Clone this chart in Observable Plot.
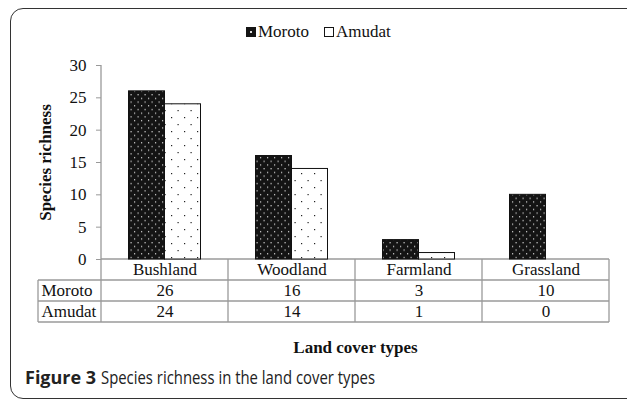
<!DOCTYPE html>
<html>
<head>
<meta charset="utf-8">
<script src="https://cdn.jsdelivr.net/npm/d3@7"></script>
<script src="https://cdn.jsdelivr.net/npm/@observablehq/plot@0.6"></script>
<style>
  html, body { margin: 0; padding: 0; background: #fff; }
  #root { position: relative; width: 627px; height: 402px; overflow: hidden; background: #fff; }
  #box { position: absolute; left: 10px; top: 8px; width: 650px; height: 391px; border: 1.5px solid #333; border-radius: 13px; box-sizing: border-box; }
  #legend { position: absolute; left: 246px; top: 22px; font-family: "Liberation Serif", serif; font-size: 17px; color: #111; display: flex; align-items: center; white-space: nowrap; }
  #legend .item { display: flex; align-items: center; margin-right: 15px; }
  #legend svg { margin-right: 2px; }
  #chart { position: absolute; left: 0; top: 45px; }
  #caption { position: absolute; left: 25px; top: 365px; font-family: "Open Sans", sans-serif; font-size: 17.5px; color: #222; white-space: nowrap; }
  #caption .b { font-weight: 700; font-size: 18px; display: inline-block; }
  #caption .r { display: inline-block; transform: scaleX(0.85); transform-origin: 0 0; margin-left: 5px; }
</style>
</head>
<body>
<div id="root">
  <div id="box"></div>
  <div id="legend"></div>
  <div id="chart"></div>
  <div id="caption"><span class="b">Figure 3</span><span class="r">Species richness in the land cover types</span></div>
</div>
<script>
// ---- data ----
const categories = ["Bushland", "Woodland", "Farmland", "Grassland"];
const seriesNames = ["Moroto", "Amudat"];
const moroto = [26, 16, 3, 10];
const amudat = [24, 14, 1, 0];
const yTicks = [0, 5, 10, 15, 20, 25, 30];
const yLabel = "Species richness";
const xLabel = "Land cover types";

// ---- layout ----
const W = 627, H = 315;
const mL = 101, mR = 18, mT = 20, mB = 101;
const bw = (W - mL - mR) / categories.length;
const barW = 36;
const rowH = 21;
const rowLabelX = 38;

const rows = categories.map((c, i) => ({cat: c, Moroto: moroto[i], Amudat: amudat[i]}));

const fillFor = {Moroto: "url(#pMoroto)", Amudat: "url(#pAmudat)"};

const plot = Plot.plot({
  width: W,
  height: H,
  marginLeft: mL,
  marginRight: mR,
  marginTop: mT,
  marginBottom: mB,
  style: {fontFamily: "Liberation Serif, serif", fontSize: "17px", color: "#111", background: "transparent", overflow: "visible"},
  x: {domain: categories, padding: 0, axis: null},
  y: {domain: [0, 30], axis: null},
  marks: [
    Plot.axisY({ticks: yTicks, tickSize: 5, tickPadding: 10, stroke: "#999", fill: "#111", fontSize: 17, label: null, tickFormat: d => d}),
    Plot.barY(rows, {x: "cat", y: "Moroto", fill: fillFor.Moroto, stroke: "#111", strokeWidth: 1,
      insetLeft: bw / 2 - barW, insetRight: bw / 2}),
    Plot.barY(rows.filter(d => d.Amudat > 0), {x: "cat", y: "Amudat", fill: fillFor.Amudat, stroke: "#111", strokeWidth: 1,
      insetLeft: bw / 2, insetRight: bw / 2 - barW}),
    // table header row (category names)
    Plot.text(rows, {x: "cat", text: "cat", frameAnchor: "bottom", dy: rowH / 2, lineAnchor: "middle", fontSize: 17, fill: "#111"}),
    // Moroto row
    Plot.text(rows, {x: "cat", text: d => String(d.Moroto), frameAnchor: "bottom", dy: rowH * 1.5, lineAnchor: "middle", fontSize: 17, fill: "#111"}),
    // Amudat row
    Plot.text(rows, {x: "cat", text: d => String(d.Amudat), frameAnchor: "bottom", dy: rowH * 2.5, lineAnchor: "middle", fontSize: 17, fill: "#111"}),
    // row labels
    Plot.text([seriesNames[0]], {text: d => d, frameAnchor: "bottom-left", textAnchor: "start", dx: rowLabelX - mL + 3, dy: rowH * 1.5, lineAnchor: "middle", fontSize: 17, fill: "#111"}),
    Plot.text([seriesNames[1]], {text: d => d, frameAnchor: "bottom-left", textAnchor: "start", dx: rowLabelX - mL + 3, dy: rowH * 2.5, lineAnchor: "middle", fontSize: 17, fill: "#111"}),
    // axis titles
    Plot.text([xLabel], {text: d => d, frameAnchor: "bottom", dy: 88, lineAnchor: "middle", fontSize: 17, fontWeight: "bold", fill: "#111"}),
    Plot.text([yLabel], {text: d => d, frameAnchor: "left", textAnchor: "middle", dx: -56, rotate: -90, lineAnchor: "middle", fontSize: 17, fontWeight: "bold", fill: "#111"})
  ]
});

document.getElementById("chart").appendChild(plot);

// ---- patterns & table lines (using Plot's scales) ----
const svg = d3.select(plot);
const defs = svg.insert("defs", ":first-child");
const pm = defs.append("pattern").attr("id", "pMoroto").attr("patternUnits", "userSpaceOnUse")
  .attr("width", 7).attr("height", 7.4);
pm.append("rect").attr("width", 7).attr("height", 7.4).attr("fill", "#141414");
pm.append("rect").attr("x", 1).attr("y", 1).attr("width", 1.2).attr("height", 1.2).attr("fill", "#d8d8d8");
pm.append("rect").attr("x", 4.5).attr("y", 4.7).attr("width", 1.2).attr("height", 1.2).attr("fill", "#d8d8d8");
const pa = defs.append("pattern").attr("id", "pAmudat").attr("patternUnits", "userSpaceOnUse")
  .attr("width", 13).attr("height", 14);
pa.append("rect").attr("width", 13).attr("height", 14).attr("fill", "#fff");
pa.append("rect").attr("x", 2).attr("y", 2).attr("width", 1.2).attr("height", 1.2).attr("fill", "#222");
pa.append("rect").attr("x", 8.5).attr("y", 9).attr("width", 1.2).attr("height", 1.2).attr("fill", "#222");

const xs = plot.scale("x"), ys = plot.scale("y");
const y0 = ys.apply(0), yTop = ys.apply(30);
const xLeft = xs.apply(categories[0]);
const xRight = xs.apply(categories[categories.length - 1]) + xs.bandwidth;
const g = svg.append("g").attr("stroke", "#9a9a9a").attr("stroke-width", 1.3).attr("fill", "none");
const line = (x1, y1, x2, y2) => g.append("line").attr("x1", x1).attr("y1", y1).attr("x2", x2).attr("y2", y2);
// y axis line continuing down through table
line(xLeft, yTop, xLeft, y0 + rowH * 3);
// top of table (axis baseline)
line(xLeft, y0, xRight, y0);
// row separators
for (let r = 1; r <= 3; r++) line(rowLabelX, y0 + rowH * r, xRight, y0 + rowH * r);
// left of row labels
line(rowLabelX, y0 + rowH, rowLabelX, y0 + rowH * 3);
// column separators
categories.forEach(c => line(xs.apply(c) + xs.bandwidth, y0, xs.apply(c) + xs.bandwidth, y0 + rowH * 3));
svg.selectAll("g[aria-label='bar']").raise();

// ---- legend ----
const legend = d3.select("#legend");
seriesNames.forEach(name => {
  const item = legend.append("div").attr("class", "item");
  const s = item.append("svg").attr("width", 10).attr("height", 10);
  if (name === "Moroto") {
    s.append("rect").attr("x", 0.5).attr("y", 0.5).attr("width", 9).attr("height", 9).attr("fill", "#141414").attr("stroke", "#141414");
    s.append("rect").attr("x", 4).attr("y", 4).attr("width", 2).attr("height", 2).attr("fill", "#ddd");
  } else {
    s.append("rect").attr("x", 0.5).attr("y", 0.5).attr("width", 9).attr("height", 9).attr("fill", "#fff").attr("stroke", "#141414");
  }
  item.append("span").text(name);
});
</script>
</body>
</html>
